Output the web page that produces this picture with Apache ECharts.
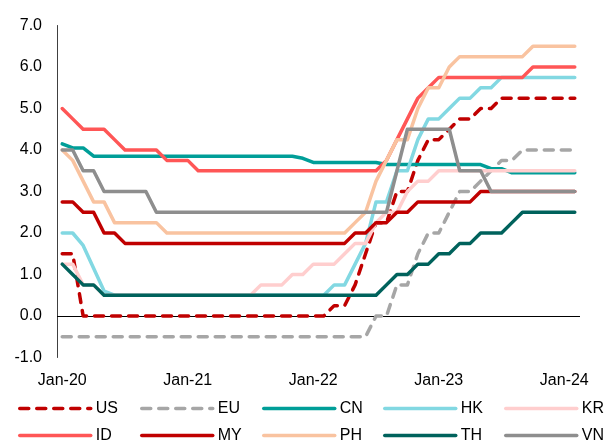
<!doctype html>
<html>
<head>
    <meta charset="UTF-8">
    <title>policy_rates</title>
    <script src="https://cdn.jsdelivr.net/npm/echarts@6.0.0/dist/echarts.min.js"></script>
    <style>
        html, body { margin: 0; padding: 0; background: #fff; }
        #main { width: 606px; height: 443px; }
    </style>
</head>
<body>
<div id="main"></div>
<script>
    // months Jan-20 .. Feb-24
    var months = [
        'Jan-20','Feb-20','Mar-20','Apr-20','May-20','Jun-20','Jul-20','Aug-20','Sep-20','Oct-20','Nov-20','Dec-20',
        'Jan-21','Feb-21','Mar-21','Apr-21','May-21','Jun-21','Jul-21','Aug-21','Sep-21','Oct-21','Nov-21','Dec-21',
        'Jan-22','Feb-22','Mar-22','Apr-22','May-22','Jun-22','Jul-22','Aug-22','Sep-22','Oct-22','Nov-22','Dec-22',
        'Jan-23','Feb-23','Mar-23','Apr-23','May-23','Jun-23','Jul-23','Aug-23','Sep-23','Oct-23','Nov-23','Dec-23',
        'Jan-24','Feb-24'
    ];

    var us = [1.5,1.5,0,0,0,0,0,0,0,0,0,0, 0,0,0,0,0,0,0,0,0,0,0,0,
              0,0,0.25,0.25,0.75,1.5,2.25,2.25,3.0,3.0,3.75,4.25,
              4.25,4.5,4.75,4.75,5.0,5.0,5.25,5.25,5.25,5.25,5.25,5.25, 5.25,5.25];
    var eu = [-0.5,-0.5,-0.5,-0.5,-0.5,-0.5,-0.5,-0.5,-0.5,-0.5,-0.5,-0.5,
              -0.5,-0.5,-0.5,-0.5,-0.5,-0.5,-0.5,-0.5,-0.5,-0.5,-0.5,-0.5,
              -0.5,-0.5,-0.5,-0.5,-0.5,-0.5,0,0,0.75,0.75,1.5,2.0,
              2.0,2.5,3.0,3.0,3.25,3.5,3.75,3.75,4.0,4.0,4.0,4.0, 4.0,4.0];
    var cn = [4.15,4.05,4.05,3.85,3.85,3.85,3.85,3.85,3.85,3.85,3.85,3.85,
              3.85,3.85,3.85,3.85,3.85,3.85,3.85,3.85,3.85,3.85,3.85,3.8,
              3.7,3.7,3.7,3.7,3.7,3.7,3.7,3.65,3.65,3.65,3.65,3.65,
              3.65,3.65,3.65,3.65,3.65,3.55,3.55,3.45,3.45,3.45,3.45,3.45, 3.45,3.45];
    var hk = [2.0,2.0,1.7,1.15,0.6,0.5,0.5,0.5,0.5,0.5,0.5,0.5,
              0.5,0.5,0.5,0.5,0.5,0.5,0.5,0.5,0.5,0.5,0.5,0.5,
              0.5,0.5,0.75,0.75,1.25,1.75,2.75,2.75,3.5,3.5,4.25,4.75,
              4.75,5.0,5.25,5.25,5.5,5.5,5.75,5.75,5.75,5.75,5.75,5.75, 5.75,5.75];
    var kr = [1.25,1.25,0.75,0.75,0.5,0.5,0.5,0.5,0.5,0.5,0.5,0.5,
              0.5,0.5,0.5,0.5,0.5,0.5,0.5,0.75,0.75,0.75,1.0,1.0,
              1.25,1.25,1.25,1.5,1.75,1.75,2.25,2.5,2.5,3.0,3.25,3.25,
              3.5,3.5,3.5,3.5,3.5,3.5,3.5,3.5,3.5,3.5,3.5,3.5, 3.5,3.5];
    var id = [5.0,4.75,4.5,4.5,4.5,4.25,4.0,4.0,4.0,4.0,3.75,3.75,
              3.75,3.5,3.5,3.5,3.5,3.5,3.5,3.5,3.5,3.5,3.5,3.5,
              3.5,3.5,3.5,3.5,3.5,3.5,3.5,3.75,4.25,4.75,5.25,5.5,
              5.75,5.75,5.75,5.75,5.75,5.75,5.75,5.75,5.75,6.0,6.0,6.0, 6.0,6.0];
    var my = [2.75,2.75,2.5,2.5,2.0,2.0,1.75,1.75,1.75,1.75,1.75,1.75,
              1.75,1.75,1.75,1.75,1.75,1.75,1.75,1.75,1.75,1.75,1.75,1.75,
              1.75,1.75,1.75,1.75,2.0,2.0,2.25,2.25,2.5,2.5,2.75,2.75,
              2.75,2.75,2.75,2.75,3.0,3.0,3.0,3.0,3.0,3.0,3.0,3.0, 3.0,3.0];
    var ph = [4.0,3.75,3.25,2.75,2.75,2.25,2.25,2.25,2.25,2.25,2.0,2.0,
              2.0,2.0,2.0,2.0,2.0,2.0,2.0,2.0,2.0,2.0,2.0,2.0,
              2.0,2.0,2.0,2.0,2.25,2.5,3.25,3.75,4.25,4.25,5.0,5.5,
              5.5,6.0,6.25,6.25,6.25,6.25,6.25,6.25,6.25,6.5,6.5,6.5, 6.5,6.5];
    var th = [1.25,1.0,0.75,0.75,0.5,0.5,0.5,0.5,0.5,0.5,0.5,0.5,
              0.5,0.5,0.5,0.5,0.5,0.5,0.5,0.5,0.5,0.5,0.5,0.5,
              0.5,0.5,0.5,0.5,0.5,0.5,0.5,0.75,1.0,1.0,1.25,1.25,
              1.5,1.5,1.75,1.75,2.0,2.0,2.0,2.25,2.5,2.5,2.5,2.5, 2.5,2.5];
    var vn = [4.0,4.0,3.5,3.5,3.0,3.0,3.0,3.0,3.0,2.5,2.5,2.5,
              2.5,2.5,2.5,2.5,2.5,2.5,2.5,2.5,2.5,2.5,2.5,2.5,
              2.5,2.5,2.5,2.5,2.5,2.5,2.5,2.5,3.5,4.5,4.5,4.5,
              4.5,4.5,3.5,3.5,3.5,3.0,3.0,3.0,3.0,3.0,3.0,3.0, 3.0,3.0];

    var names = ['US','EU','CN','HK','KR','ID','MY','PH','TH','VN'];
    var values = [us, eu, cn, hk, kr, id, my, ph, th, vn];
    var colors = ['#C00000','#A6A6A6','#009E98','#82D8E2','#FFCECE',
                  '#FF5656','#C00000','#F9C3A0','#00625C','#8E8E8E'];
    var dashed = ['US','EU'];

    var font = 'Liberation Sans, Arial, sans-serif';

    var series = names.map(function (name, i) {
        var s = {
            name: name,
            type: 'line',
            data: values[i],
            symbol: 'none',
            lineStyle: {
                color: colors[i],
                width: 3.5,
                type: dashed.indexOf(name) >= 0 ? [9, 8] : 'solid',
                cap: 'round',
                join: 'round'
            },
            itemStyle: { color: colors[i] }
        };
        if (i === 0) {
            // zero line
            s.markLine = {
                silent: true,
                symbol: 'none',
                label: { show: false },
                z: 1,
                lineStyle: { color: '#000', width: 1, type: 'solid' },
                data: [{ yAxis: 0 }]
            };
        }
        return s;
    });

    // legend, 5 columns x 2 rows
    var legendCols = [['US','ID'], ['EU','MY'], ['CN','PH'], ['HK','TH'], ['KR','VN']];
    var legendLeft = [18, 140, 262, 383, 504];
    var legends = legendCols.map(function (col, i) {
        return {
            orient: 'vertical',
            left: legendLeft[i],
            top: 400.5,
            height: 60,
            padding: 0,
            data: col,
            itemWidth: 71,
            itemHeight: 16,
            itemGap: 11,
            selectedMode: false,
            itemStyle: { opacity: 0 },
            lineStyle: { width: 3.5 },
            textStyle: { fontSize: 16, color: '#000', fontFamily: font, lineHeight: 16 }
        };
    });

    var chart = echarts.init(document.getElementById('main'));
    chart.setOption({
        animation: false,
        grid: { left: 57, right: 26, top: 25.5, bottom: 85.5 },
        legend: legends,
        xAxis: {
            type: 'category',
            data: months,
            boundaryGap: true,
            axisLine: { show: false },
            axisTick: { show: false },
            axisLabel: {
                interval: function (idx) { return idx % 12 === 0; },
                margin: 15,
                fontSize: 16,
                color: '#000',
                fontFamily: font
            },
            splitLine: { show: false }
        },
        yAxis: {
            type: 'value',
            min: -1,
            max: 7,
            interval: 1,
            axisLine: { show: true, lineStyle: { color: '#404040', width: 1 } },
            axisTick: { show: false },
            splitLine: { show: false },
            axisLabel: {
                margin: 15,
                fontSize: 16,
                color: '#000',
                fontFamily: font,
                formatter: function (v) { return v.toFixed(1); }
            }
        },
        series: series
    });
</script>
</body>
</html>
